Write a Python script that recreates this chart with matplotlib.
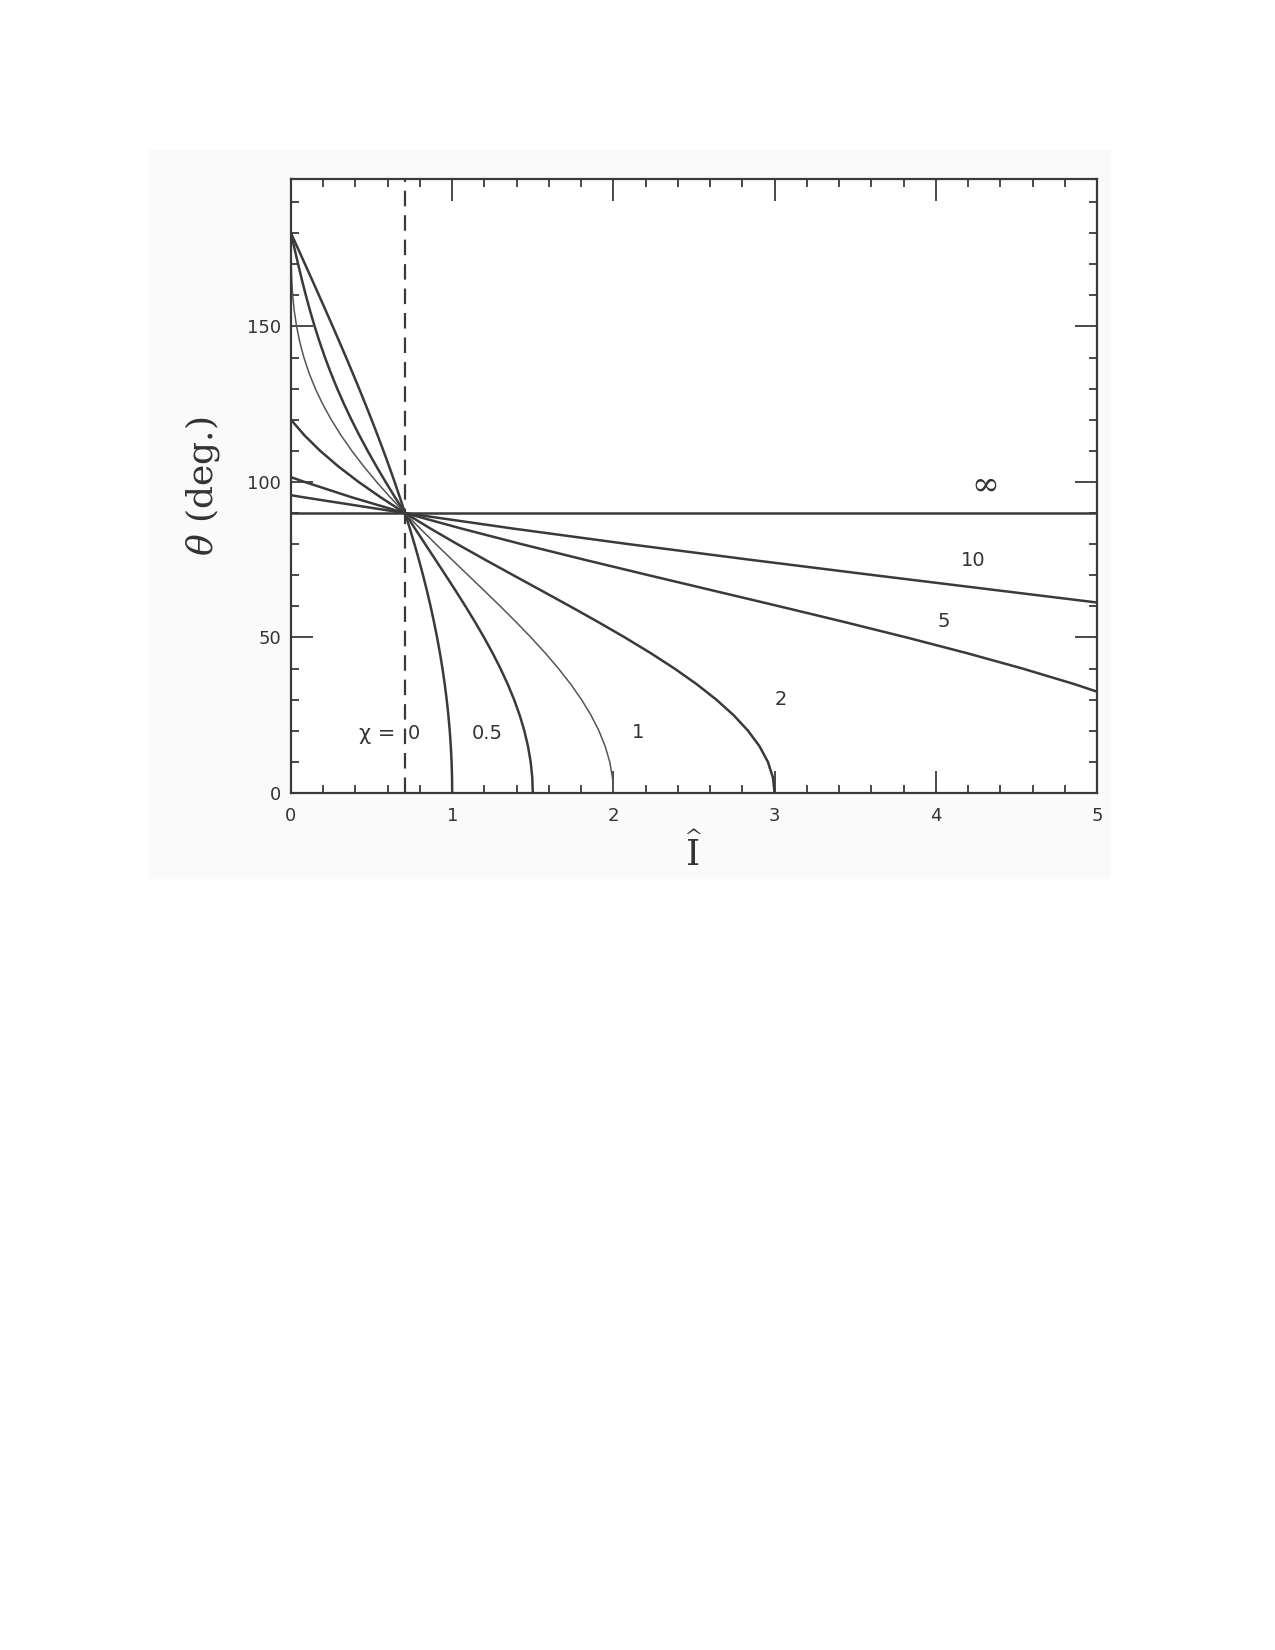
import numpy as np
import matplotlib.pyplot as plt
from matplotlib.patches import Rectangle
from matplotlib.ticker import MultipleLocator

plt.rcParams["mathtext.fontset"] = "dejavuserif"

# theta samples (deg) shared by the curves, and I-hat
theta = [0, 5, 10, 15, 20, 25, 30, 35, 40, 45, 50, 55, 60, 65, 70, 75, 80, 85,
         90, 95, 100, 105, 110, 115, 120, 125, 130, 135, 140, 145, 150, 155,
         160, 165, 170, 175, 180]

I_chi0 = [1.0, 0.99905, 0.99619, 0.99144, 0.98481, 0.97630, 0.96593, 0.95372,
          0.93969, 0.92388, 0.90631, 0.88701, 0.86603, 0.84339, 0.81915,
          0.79335, 0.76604, 0.73728, 0.70711, 0.67559, 0.64279, 0.60876,
          0.57358, 0.53730, 0.5, 0.46175, 0.42262, 0.38268, 0.34202, 0.30071,
          0.25882, 0.21644, 0.17365, 0.13053, 0.08716, 0.04362, 0.0]
I_chi05 = [1.5, 1.49667, 1.48672, 1.47027, 1.44752, 1.41872, 1.38419, 1.34434,
           1.29961, 1.25052, 1.19759, 1.14140, 1.08254, 1.02161, 0.95923,
           0.89602, 0.83255, 0.76941, 0.70711, 0.64615, 0.58698, 0.52998,
           0.47549, 0.42376, 0.375, 0.32933, 0.28679, 0.24738, 0.21102,
           0.17755, 0.14675, 0.11836, 0.09206, 0.06749, 0.04424, 0.02189, 0.0]
I_chi1 = [2.0, 1.99429, 1.97725, 1.94910, 1.91023, 1.86113, 1.80245, 1.73496,
          1.65953, 1.57716, 1.48888, 1.39578, 1.29904, 1.19982, 1.09932,
          0.99868, 0.89906, 0.80154, 0.70711, 0.61671, 0.53117, 0.45120,
          0.37740, 0.31023, 0.25, 0.19690, 0.15096, 0.11208, 0.08002, 0.05438,
          0.03467, 0.02028, 0.01047, 0.00445, 0.00132, 0.00017, 0.0]

theta_chi2 = theta[:25]
I_chi2 = [3.0, 2.98954, 2.95831, 2.90676, 2.83564, 2.74596, 2.63898, 2.51620,
          2.37937, 2.23045, 2.07145, 1.90455, 1.73206, 1.55626, 1.37948,
          1.20402, 1.03209, 0.86580, 0.70711, 0.55782, 0.41955, 0.29364,
          0.18123, 0.08315, 0.0]

theta_chi5 = [25, 30, 35, 40, 45, 50, 55, 60, 65, 70, 75, 80, 85, 90, 95, 100, 101.54]
I_chi5 = [5.40045, 5.14855, 4.85992, 4.53889, 4.19030, 3.81915, 3.43087,
          3.03111, 2.62556, 2.21998, 1.82002, 1.43115, 1.05859, 0.70711,
          0.38117, 0.08469, 0.0]

theta_chi10 = [50, 55, 60, 65, 70, 75, 80, 85, 90, 95, 95.74]
I_chi10 = [6.73198, 5.97473, 5.19618, 4.40773, 3.62081, 2.84670, 2.09627,
           1.37989, 0.70711, 0.08675, 0.0]

theta_inf = [90, 90]
I_inf = [0.0, 5.0]

I_star = 0.70711  # dashed vertical line

labels = ["0", "0.5", "1", "2", "5", "10"]
label_x = [0.764, 1.22, 2.15, 3.04, 4.05, 4.23]
label_y = [19, 19, 19.3, 30, 55, 74.9]
inf_x, inf_y = 4.30, 99.2

ink = "#3a3a3a"
txt = "#333333"

fig = plt.figure(figsize=(12.75, 16.5), dpi=100)
fig.patches.append(Rectangle((148 / 1275, 1 - 878 / 1650), 962 / 1275, 728 / 1650,
                             transform=fig.transFigure, color="#fafafa", zorder=-5))
ax = fig.add_axes([291 / 1275, 1 - 793 / 1650, 806 / 1275, 614 / 1650])
ax.set_facecolor("white")

ax.plot(I_chi0, theta, color=ink, lw=1.8)
ax.plot(I_chi05, theta, color=ink, lw=1.8)
ax.plot(I_chi1, theta, color="#555555", lw=1.1)
ax.plot(I_chi2, theta_chi2, color=ink, lw=1.8)
ax.plot(I_chi5, theta_chi5, color=ink, lw=1.8)
ax.plot(I_chi10, theta_chi10, color=ink, lw=1.8)
ax.plot(I_inf, theta_inf, color=ink, lw=1.8)
ax.axvline(I_star, color=ink, lw=1.6, ls=(0, (7, 4)))

for s, x, y in zip(labels, label_x, label_y):
    ax.text(x, y, s, ha="center", va="center", fontsize=14, color=txt)
ax.text(inf_x, inf_y, r"$\infty$", ha="center", va="center", fontsize=24,
        color=txt)
ax.text(0.65, 19, "χ =", ha="right", va="center", fontsize=15,
        color=txt, family="DejaVu Sans")

ax.set_xlim(0, 5)
ax.set_ylim(0, 197.4)
ax.xaxis.set_major_locator(MultipleLocator(1))
ax.xaxis.set_minor_locator(MultipleLocator(0.2))
ax.yaxis.set_major_locator(MultipleLocator(50))
ax.yaxis.set_minor_locator(MultipleLocator(10))
ax.tick_params(which="both", direction="in", top=True, right=True, color=ink,
               labelsize=13, labelcolor=txt)
ax.tick_params(which="major", length=16, width=1.3)
ax.tick_params(which="minor", length=6, width=1.3)
ax.tick_params(axis="x", pad=10)
ax.tick_params(axis="y", pad=7)
for sp in ax.spines.values():
    sp.set_color(ink)
    sp.set_linewidth(1.6)

ax.set_ylabel(r"$\theta$ (deg.)", fontsize=26, family="DejaVu Serif",
              color=txt, labelpad=18)
ax.set_xlabel(r"$\widehat{\mathrm{I}}$", fontsize=26, color=txt, labelpad=6)

fig.savefig("out.png", dpi=100)
